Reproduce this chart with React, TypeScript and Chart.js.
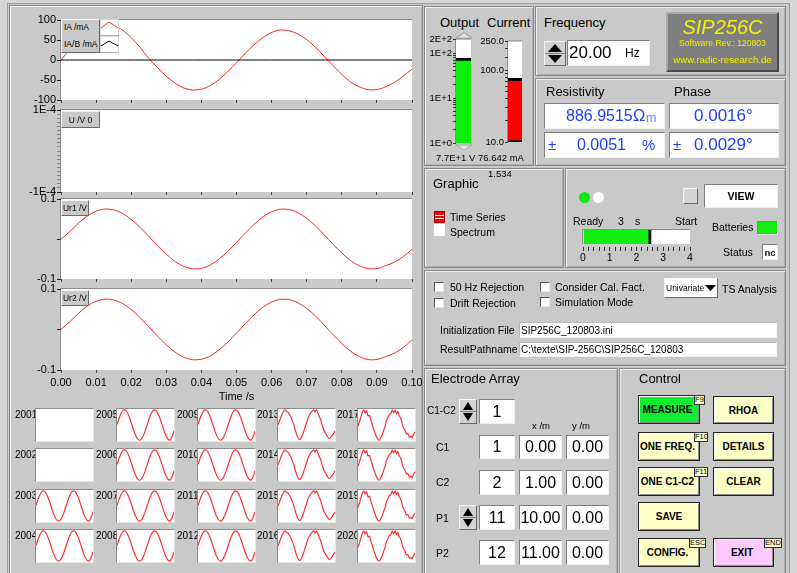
import React, { useEffect, useRef } from 'react';
import { Chart, registerables } from 'chart.js';
Chart.register(...registerables);

const SANS = "'Liberation Sans', Arial, Helvetica, sans-serif";
Chart.defaults.font.family = SANS;
Chart.defaults.color = '#000';

const PANEL = '#c9c9c9';
const BLUE = '#1f3dff';
const RED = '#ff2424';

// ---------------- data ----------------
const timeSec = [0, 0.0025, 0.005, 0.0075, 0.01, 0.0125, 0.015, 0.0175, 0.02, 0.0225, 0.025, 0.0275, 0.03, 0.0325, 0.035, 0.0375, 0.04, 0.0425, 0.045, 0.0475, 0.05, 0.0525, 0.055, 0.0575, 0.06, 0.0625, 0.065, 0.0675, 0.07, 0.0725, 0.075, 0.0775, 0.08, 0.0825, 0.085, 0.0875, 0.09, 0.0925, 0.095, 0.0975, 0.1];
const iaMilliAmp = [0, 27, 52, 72, 85, 90, 86, 75, 56, 32, 4, -19, -41, -58, -70, -75, -73, -64, -49, -29, -7, 17, 38, 56, 69, 75, 73, 65, 51, 32, 9, -14, -36, -55, -67, -74, -74, -67, -56, -40, -23];
const iabMilliAmp = [0, 0, 0, 0, 0, 0, 0, 0, 0, 0, 0, 0, 0, 0, 0, 0, 0, 0, 0, 0, 0, 0, 0, 0, 0, 0, 0, 0, 0, 0, 0, 0, 0, 0, 0, 0, 0, 0, 0, 0, 0];
const ur1Volt = [0, 0.0185, 0.0399, 0.0575, 0.0695, 0.0748, 0.0729, 0.064, 0.049, 0.0292, 0.0066, -0.0167, -0.038, -0.0561, -0.0687, -0.0746, -0.0734, -0.065, -0.0503, -0.031, -0.0084, 0.0149, 0.0366, 0.0552, 0.068, 0.0744, 0.0736, 0.0658, 0.0518, 0.0331, 0.0103, -0.013, -0.035, -0.0539, -0.0671, -0.0742, -0.074, -0.0665, -0.058, -0.044, -0.026];
const ur2Volt = [0.0005, 0.019, 0.0402, 0.0578, 0.0698, 0.075, 0.0731, 0.0642, 0.0493, 0.0295, 0.007, -0.0163, -0.0377, -0.0559, -0.0686, -0.0746, -0.0735, -0.0652, -0.0506, -0.0313, -0.0088, 0.0145, 0.0362, 0.0549, 0.0679, 0.0745, 0.0738, 0.066, 0.0521, 0.0335, 0.0107, -0.0126, -0.0347, -0.0537, -0.067, -0.0742, -0.0741, -0.0667, -0.0583, -0.0445, -0.0255];

const timeTicks = [0, 0.01, 0.02, 0.03, 0.04, 0.05, 0.06, 0.07, 0.08, 0.09, 0.1];
const iaTicks = [-100, -50, 0, 50, 100];
const iaTickLabels = ['-100', '-50', '0', '50', '100'];
const uTicks = [-1e-4, -9e-5, -8e-5, -7e-5, -6e-5, -5e-5, -4e-5, -3e-5, -2e-5, -1e-5, 0, 1e-5, 2e-5, 3e-5, 4e-5, 5e-5, 6e-5, 7e-5, 8e-5, 9e-5, 1e-4];
const uTickLabels = ['-1E-4', '', '', '', '', '', '', '', '', '', '', '', '', '', '', '', '', '', '', '', '1E-4'];
const urTicks = [-0.1, 0, 0.1];
const urTickLabels = ['-0.1', '', '0.1'];

const thumbIds = ['2001', '2002', '2003', '2004', '2005', '2006', '2007', '2008', '2009', '2010', '2011', '2012', '2013', '2014', '2015', '2016', '2017', '2018', '2019', '2020'];
const thumbPattern = ['none', 'none', 'clean', 'clean', 'clean', 'clean', 'clean', 'clean', 'clean', 'clean', 'clean', 'clean', 'noisyA', 'noisyA', 'noisyA', 'noisyA', 'noisyB', 'noisyB', 'noisyB', 'noisyB'];
const thumbClean = [0.03, 0.32, 0.58, 0.79, 0.94, 1.0, 0.97, 0.86, 0.67, 0.43, 0.15, -0.15, -0.43, -0.67, -0.86, -0.97, -1.0, -0.94, -0.79, -0.58, -0.32, -0.03, 0.26, 0.53, 0.76, 0.92, 0.99, 0.98, 0.89, 0.71, 0.48, 0.2, -0.09, -0.38, -0.63, -0.83, -0.96, -1.0, -0.9, -0.68, -0.38];
const thumbNoisyA = [0.0, 0.25, 0.5, 0.75, 0.92, 1.0, 0.9, 0.85, 0.7, 0.55, 0.3, 0.05, -0.3, -0.6, -0.85, -0.95, -0.9, -0.7, -0.45, -0.15, 0.15, 0.45, 0.65, 0.8, 0.92, 1.0, 0.85, 1.0, 0.8, 0.55, 0.35, 0.0, -0.3, -0.5, -0.65, -0.8, -0.9, -0.82, -0.7, -0.55, -0.4];
const thumbNoisyB = [-0.1, 0.2, 0.5, 0.85, 1.0, 0.8, 0.95, 0.6, 0.65, 0.35, 0.05, -0.3, -0.55, -0.8, -0.95, -1.0, -0.85, -0.65, -0.35, -0.1, 0.3, 0.5, 0.7, 0.75, 1.0, 0.8, 1.0, 0.75, 0.9, 0.6, 0.45, 0.1, -0.2, -0.35, -0.6, -0.55, -0.8, -0.75, -0.85, -0.6, -0.45];

const outputVolt = [77];
const outputTicks = [1, 2, 3, 4, 5, 6, 7, 8, 9, 10, 20, 30, 40, 50, 60, 70, 80, 90, 100, 200];
const outputTickLabels = ['1E+0', '', '', '', '', '', '', '', '', '1E+1', '', '', '', '', '', '', '', '', '1E+2', '2E+2'];
const currentMilliAmp = [76.642];
const currentTicks = [10, 20, 30, 40, 50, 60, 70, 80, 90, 100, 150, 200, 250];
const currentTickLabels = ['10.0', '', '', '', '', '', '', '', '', '100.0', '', '', '250.0'];
const progressSec = [2.55];
const progressTicks = [0, 0.2, 0.4, 0.6, 0.8, 1, 1.2, 1.4, 1.6, 1.8, 2, 2.2, 2.4, 2.6, 2.8, 3, 3.2, 3.4, 3.6, 3.8, 4];

// ---------------- helpers ----------------
const whitePlot = (border: boolean) => ({
  id: 'whitePlot',
  beforeDraw(chart: any) {
    const { ctx, chartArea: a } = chart;
    ctx.save();
    ctx.fillStyle = '#ffffff';
    ctx.fillRect(a.left, a.top, a.right - a.left, a.bottom - a.top);
    if (border) {
      ctx.strokeStyle = '#8c8c8c';
      ctx.lineWidth = 1;
      ctx.beginPath();
      ctx.moveTo(a.left - 0.5, a.bottom);
      ctx.lineTo(a.left - 0.5, a.top - 0.5);
      ctx.lineTo(a.right, a.top - 0.5);
      ctx.stroke();
    }
    ctx.restore();
  },
});

function ChartCanvas({ x, y, w, h, make }: { x: number; y: number; w: number; h: number; make: () => any }) {
  const ref = useRef<HTMLCanvasElement | null>(null);
  useEffect(() => {
    const c = new Chart(ref.current as HTMLCanvasElement, make());
    return () => c.destroy();
  }, []);
  return <canvas ref={ref} width={w} height={h} style={{ position: 'absolute', left: x, top: y, width: w, height: h }} />;
}

const pts = (xs: number[], ys: number[]) => ys.map((v, i) => ({ x: xs[i], y: v }));

function tsConfig(o: { datasets: any[]; min: number; max: number; ticks: number[]; labels: string[]; padTop: number; axisH: number; showX: boolean }) {
  return {
    type: 'line',
    data: { datasets: o.datasets },
    options: {
      responsive: false,
      animation: false,
      events: [],
      layout: { padding: { top: o.padTop, right: 10, left: 0, bottom: 0 } },
      plugins: { legend: { display: false }, tooltip: { enabled: false } },
      elements: { point: { radius: 0 }, line: { borderWidth: 1, tension: 0.3 } },
      scales: {
        x: {
          type: 'linear',
          min: 0,
          max: 0.1,
          afterBuildTicks: (s: any) => { s.ticks = timeTicks.map((v) => ({ value: v })); },
          ticks: { display: o.showX, callback: (v: any) => Number(v).toFixed(2), font: { size: 11 }, color: '#000', padding: 3, maxRotation: 0, autoSkip: false },
          grid: { drawOnChartArea: false, tickLength: 3, color: '#444' },
          border: { display: false },
          title: { display: o.showX, text: 'Time /s', font: { size: 11 }, color: '#000', padding: { top: 0, bottom: 0 } },
          afterFit: (s: any) => { s.height = o.axisH; s.paddingLeft = 0; s.paddingRight = 0; },
        },
        y: {
          min: o.min,
          max: o.max,
          afterBuildTicks: (s: any) => { s.ticks = o.ticks.map((v) => ({ value: v })); },
          ticks: { callback: (_v: any, i: number) => o.labels[i], font: { size: 11 }, color: '#000', padding: 1, autoSkip: false },
          grid: { drawOnChartArea: false, tickLength: 4, tickColor: (c: any) => (o.labels[c.index] !== '' || o.ticks.length < 6 ? '#222' : '#888'), color: '#222' },
          border: { display: false },
          afterFit: (s: any) => { s.width = 51; s.paddingTop = 0; s.paddingBottom = 0; },
        },
      },
    },
    plugins: [whitePlot(true)],
  };
}

function levelConfig(o: { value: number[]; color: string; min: number; max: number; ticks: number[]; labels: string[]; axisW: number; pad: any; bw: any }) {
  return {
    type: 'bar',
    data: { labels: ['v'], datasets: [{ data: o.value, backgroundColor: o.color, borderColor: '#000', borderWidth: o.bw, borderSkipped: false, barPercentage: 1, categoryPercentage: 1 }] },
    options: {
      responsive: false,
      animation: false,
      events: [],
      layout: { padding: o.pad },
      plugins: { legend: { display: false }, tooltip: { enabled: false } },
      scales: {
        x: { display: false },
        y: {
          type: 'logarithmic',
          min: o.min,
          max: o.max,
          afterBuildTicks: (s: any) => { s.ticks = o.ticks.map((v) => ({ value: v })); },
          ticks: { callback: (_v: any, i: number) => o.labels[i], font: { size: 9.5 }, color: '#000', padding: 1, autoSkip: false },
          grid: { drawOnChartArea: false, tickLength: 3, color: '#333' },
          border: { display: false },
          afterFit: (s: any) => { s.width = o.axisW; s.paddingTop = 0; s.paddingBottom = 0; },
        },
      },
    },
    plugins: [whitePlot(true)],
  };
}

function progressConfig() {
  return {
    type: 'bar',
    data: { labels: ['t'], datasets: [{ data: progressSec, backgroundColor: '#10ee10', borderColor: '#000', borderWidth: { right: 3 }, borderSkipped: false, barPercentage: 1, categoryPercentage: 1 }] },
    options: {
      indexAxis: 'y',
      responsive: false,
      animation: false,
      events: [],
      layout: { padding: { left: 13, right: 10, top: 8, bottom: 0 } },
      plugins: { legend: { display: false }, tooltip: { enabled: false } },
      scales: {
        y: { display: false },
        x: {
          min: 0,
          max: 4,
          afterBuildTicks: (s: any) => { s.ticks = progressTicks.map((v) => ({ value: v })); },
          ticks: { callback: (v: any) => (Number.isInteger(Number(v)) ? String(v) : ''), font: { size: 10.5 }, color: '#000', padding: 1, maxRotation: 0, autoSkip: false },
          grid: { drawOnChartArea: false, tickLength: 7, tickBorderDash: [0, 3, 4, 30], color: '#333' },
          border: { display: false },
          afterFit: (s: any) => { s.height = 25; s.paddingLeft = 0; s.paddingRight = 0; },
        },
      },
    },
    plugins: [whitePlot(true)],
  };
}

function thumbConfig(data: number[]) {
  const idx = data.map((_v, i) => i);
  return {
    type: 'line',
    data: { datasets: [{ data: pts(idx, data), borderColor: '#ff3030', borderWidth: 1.2, pointRadius: 0, tension: 0.2 }] },
    options: {
      responsive: false,
      animation: false,
      events: [],
      layout: { padding: 0 },
      plugins: { legend: { display: false }, tooltip: { enabled: false } },
      scales: { x: { type: 'linear', display: false, min: 0, max: data.length - 1 }, y: { display: false, min: -1.06, max: 1.06 } },
    },
  };
}

function T({ x, y, s, c = '#000', b = false, i = false, children, st = {} }: any) {
  return (
    <div style={{ position: 'absolute', left: x, top: y - s * 0.6, fontSize: s, lineHeight: `${s * 1.2}px`, fontFamily: SANS, color: c, fontWeight: b ? 700 : 400, fontStyle: i ? 'italic' : 'normal', whiteSpace: 'nowrap', ...st }}>
      {children}
    </div>
  );
}

const IN = '#7e7e7e #f2f2f2 #f2f2f2 #7e7e7e';
const OUT = '#f6f6f6 #6a6a6a #6a6a6a #f6f6f6';

function Box({ x, y, w, h, bg = '#fff', out = false, children, st = {} }: any) {
  return (
    <div style={{ position: 'absolute', left: x, top: y, width: w, height: h, boxSizing: 'border-box', background: bg, borderStyle: 'solid', borderWidth: 1, borderColor: out ? OUT : IN, display: 'flex', alignItems: 'center', justifyContent: 'center', fontFamily: SANS, overflow: 'hidden', whiteSpace: 'nowrap', ...st }}>
      {children}
    </div>
  );
}

function Panel({ x, y, w, h }: any) {
  return <div style={{ position: 'absolute', left: x, top: y, width: w, height: h, boxSizing: 'border-box', background: PANEL, border: '1px solid #8a8a8a', boxShadow: 'inset 1px 1px 0 #efefef, inset -1px -1px 0 #b0b0b0' }} />;
}

function Spinner({ x, y, w, h }: any) {
  const iw = w - 2;
  const ih = h - 2;
  const m = ih / 2;
  return (
    <div style={{ position: 'absolute', left: x, top: y, width: w, height: h, boxSizing: 'border-box', background: '#d2d2d2', borderStyle: 'solid', borderWidth: 1, borderColor: OUT }}>
      <svg width={iw} height={ih} style={{ display: 'block' }}>
        <polygon points={`${iw / 2},2 ${iw - 3},${m - 1.5} 3,${m - 1.5}`} fill="#000" />
        <line x1={0} y1={m} x2={iw} y2={m} stroke="#808080" />
        <polygon points={`3,${m + 1.5} ${iw - 3},${m + 1.5} ${iw / 2},${ih - 2}`} fill="#000" />
      </svg>
    </div>
  );
}

function Btn({ x, y, w, h, label, bg = '#ffffc8', tag, tx = 0, tw = 12 }: any) {
  return (
    <>
      <div style={{ position: 'absolute', left: x, top: y, width: w, height: h, boxSizing: 'border-box', background: bg, border: '1px solid #222', boxShadow: 'inset 1px 1px 0 #ffffff, inset -1px -1px 0 #8a8a8a', display: 'flex', alignItems: 'center', justifyContent: 'center', fontFamily: SANS, fontWeight: 700, fontSize: 10, color: '#000', whiteSpace: 'nowrap', paddingRight: tag ? 3 : 0 }}>
        {label}
      </div>
      {tag ? (
        <div style={{ position: 'absolute', left: tx, top: y, width: tw, height: 10, boxSizing: 'border-box', background: '#ffffc8', border: '1px solid #333', fontFamily: SANS, fontSize: 7.5, lineHeight: '8px', textAlign: 'center', color: '#000' }}>{tag}</div>
      ) : null}
    </>
  );
}

function CheckBox({ x, y }: any) {
  return <div style={{ position: 'absolute', left: x, top: y, width: 10, height: 10, boxSizing: 'border-box', background: '#fff', borderStyle: 'solid', borderWidth: 1, borderColor: '#555 #e8e8e8 #e8e8e8 #555' }} />;
}

const THUMB_X = [35, 116, 197, 277, 357];
const THUMB_Y = [408, 448, 489, 529];

export default function App() {
  useEffect(() => {
    document.body.style.margin = '0';
  }, []);

  const thumbs = thumbIds.map((id, k) => {
    const col = Math.floor(k / 4);
    const row = k % 4;
    const bx = THUMB_X[col];
    const by = THUMB_Y[row];
    const p = thumbPattern[k];
    const data = p === 'clean' ? thumbClean : p === 'noisyA' ? thumbNoisyA : p === 'noisyB' ? thumbNoisyB : null;
    return (
      <React.Fragment key={id}>
        <T x={bx - 20} y={by + 7} s={10}>{id}</T>
        <div style={{ position: 'absolute', left: bx, top: by, width: 59, height: 34, boxSizing: 'border-box', background: '#fff', borderStyle: 'solid', borderWidth: 1, borderColor: '#8c8c8c #e6e6e6 #e6e6e6 #8c8c8c' }}>
          {data ? <ChartCanvas x={0} y={0} w={57} h={32} make={() => thumbConfig(data)} /> : null}
        </div>
      </React.Fragment>
    );
  });

  return (
    <div style={{ position: 'absolute', left: 0, top: 0, width: 797, height: 573, overflow: 'hidden', background: '#d6d6d6', fontFamily: SANS }}>
      {/* outer frame */}
      <div style={{ position: 'absolute', left: 7, top: 3, width: 783, height: 580, boxSizing: 'border-box', border: '1px solid #9c9c9c', background: PANEL }} />

      {/* left graph panel */}
      <Panel x={9} y={5} w={414} h={575} />

      {/* main time series */}
      <ChartCanvas x={10} y={8} w={412} h={98} make={() => tsConfig({ datasets: [
        { data: pts(timeSec, iabMilliAmp), borderColor: '#000' },
        { data: pts(timeSec, iaMilliAmp), borderColor: RED },
      ], min: -100, max: 100, ticks: iaTicks, labels: iaTickLabels, padTop: 12, axisH: 6, showX: false })} />
      <ChartCanvas x={10} y={100} w={412} h={98} make={() => tsConfig({ datasets: [], min: -1e-4, max: 1e-4, ticks: uTicks, labels: uTickLabels, padTop: 10, axisH: 6, showX: false })} />
      <ChartCanvas x={10} y={189} w={412} h={96} make={() => tsConfig({ datasets: [
        { data: pts(timeSec, ur1Volt), borderColor: RED },
      ], min: -0.1, max: 0.1, ticks: urTicks, labels: urTickLabels, padTop: 10, axisH: 6, showX: false })} />
      <ChartCanvas x={10} y={279} w={412} h={125} make={() => tsConfig({ datasets: [
        { data: pts(timeSec, ur2Volt), borderColor: RED },
      ], min: -0.1, max: 0.1, ticks: urTicks, labels: urTickLabels, padTop: 10, axisH: 34, showX: true })} />

      {/* legend of plot 1 */}
      <div style={{ position: 'absolute', left: 61, top: 19, width: 39, height: 34, boxSizing: 'border-box', background: PANEL, borderStyle: 'solid', borderWidth: 1, borderColor: OUT }} />
      <T x={64} y={27} s={8.5}>IA /mA</T>
      <T x={64} y={44} s={8.5}>IA/B /mA</T>
      <svg width={19} height={34} style={{ position: 'absolute', left: 100, top: 19 }}>
        <rect x={0} y={0} width={19} height={16.5} fill="#fff" stroke="#b0b0b0" />
        <rect x={0} y={17} width={19} height={16.5} fill="#fff" stroke="#b0b0b0" />
        <polyline points="1,9 9,3 18,9" fill="none" stroke={RED} strokeWidth={1} />
        <polyline points="1,27 9,22 18,27" fill="none" stroke="#000" strokeWidth={1} />
      </svg>
      <Box x={61} y={111} w={39} h={17} bg={PANEL} out><span style={{ fontSize: 8.5 }}>U /V 0</span></Box>
      <Box x={61} y={200} w={28} h={16} bg={PANEL} out><span style={{ fontSize: 8.5 }}>Ur1 /V</span></Box>
      <Box x={61} y={290} w={28} h={16} bg={PANEL} out><span style={{ fontSize: 8.5 }}>Ur2 /V</span></Box>

      {/* thumbnails */}
      {thumbs}

      {/* right panels */}
      <Panel x={424} y={6} w={110} h={160} />
      <Panel x={535} y={6} w={251} h={70} />
      <Panel x={535} y={78} w={251} h={88} />
      <Panel x={424} y={168} w={140} h={100} />
      <Panel x={565} y={168} w={221} h={100} />
      <Panel x={424} y={270} w={362} h={96} />
      <Panel x={424} y={368} w={194} h={212} />
      <Panel x={619} y={368} w={167} h={212} />

      {/* output / current */}
      <T x={440} y={23} s={13}>Output</T>
      <T x={487} y={23} s={13}>Current</T>
      <svg width={20} height={120} style={{ position: 'absolute', left: 454, top: 31 }}>
        <polygon points="2,7 18,7 10,2" fill="#e4e4e4" stroke="#a0a0a0" />
        <polygon points="2,114 18,114 10,119" fill="#e4e4e4" stroke="#a0a0a0" />
      </svg>
      <ChartCanvas x={424} y={30} w={52} h={120} make={() => levelConfig({ value: outputVolt, color: '#10ee10', min: 1, max: 200, ticks: outputTicks, labels: outputTickLabels, axisW: 32, pad: { top: 9.5, right: 5, bottom: 7, left: 0 }, bw: { top: 3, left: 0, right: 0, bottom: 0 } })} />
      <ChartCanvas x={474} y={30} w={52} h={120} make={() => levelConfig({ value: currentMilliAmp, color: '#ff0000', min: 10, max: 250, ticks: currentTicks, labels: currentTickLabels, axisW: 34, pad: { top: 11.4, right: 4, bottom: 8, left: 0 }, bw: { top: 3, left: 0, right: 0, bottom: 2 } })} />
      <T x={436} y={158} s={9.5}>7.7E+1 V 76.642 mA</T>

      {/* frequency */}
      <T x={544} y={23} s={13}>Frequency</T>
      <Spinner x={544} y={41} w={22} h={25} />
      <Box x={567} y={40} w={83} h={26} st={{ justifyContent: 'flex-start' }} />
      <T x={569} y={53} s={17}>20.00</T>
      <T x={625} y={53} s={12}>Hz</T>
      <div style={{ position: 'absolute', left: 666, top: 12, width: 113, height: 60, boxSizing: 'border-box', background: '#7f7f7f', borderStyle: 'solid', borderWidth: 2, borderColor: '#a8a8a8 #4a4a4a #4a4a4a #a8a8a8' }} />
      <div style={{ position: 'absolute', left: 666, top: 15, width: 113, textAlign: 'center', fontFamily: SANS, fontStyle: 'italic', fontSize: 20, lineHeight: '24px', color: '#f2f200' }}>SIP256C</div>
      <div style={{ position: 'absolute', left: 666, top: 38, width: 113, textAlign: 'center', fontFamily: SANS, fontSize: 8.6, lineHeight: '11px', color: '#f2f200' }}>Software Rev.: 120803</div>
      <div style={{ position: 'absolute', left: 666, top: 54, width: 113, textAlign: 'center', fontFamily: SANS, fontSize: 9.7, lineHeight: '12px', color: '#f2f200' }}>www.radic-research.de</div>

      {/* resistivity / phase */}
      <T x={546} y={92} s={13}>Resistivity</T>
      <T x={674} y={92} s={13}>Phase</T>
      <Box x={544} y={103} w={121} h={26} />
      <Box x={669} y={103} w={110} h={26} />
      <Box x={544} y={132} w={121} h={26} />
      <Box x={669} y={132} w={110} h={26} />
      <T x={566} y={116} s={16} c={BLUE}>886.9515</T>
      <T x={633} y={116} s={16.5} c={BLUE}>Ω</T>
      <T x={646} y={118} s={12.5} c="#6f86ff">m</T>
      <T x={694} y={116} s={17} c={BLUE}>0.0016°</T>
      <T x={548} y={145} s={15} c={BLUE}>±</T>
      <T x={577} y={145} s={16} c={BLUE}>0.0051</T>
      <T x={642} y={145} s={15} c={BLUE}>%</T>
      <T x={673} y={145} s={15} c={BLUE}>±</T>
      <T x={694} y={145} s={17} c={BLUE}>0.0029°</T>

      {/* graphic */}
      <T x={433} y={184} s={13}>Graphic</T>
      <T x={488} y={174} s={9.5}>1.534</T>
      <div style={{ position: 'absolute', left: 434, top: 211, width: 11, height: 12, background: '#ff0000', boxSizing: 'border-box', border: '1px solid #a00000' }}>
        <div style={{ position: 'absolute', left: 0, top: 3, width: 9, height: 1, background: '#fff' }} />
        <div style={{ position: 'absolute', left: 0, top: 6, width: 9, height: 1, background: '#fff' }} />
      </div>
      <div style={{ position: 'absolute', left: 434, top: 224, width: 11, height: 12, background: '#fff' }} />
      <T x={450} y={217} s={10.5}>Time Series</T>
      <T x={450} y={232} s={10.5}>Spectrum</T>

      {/* ready / start */}
      <div style={{ position: 'absolute', left: 579, top: 192, width: 11, height: 11, borderRadius: '50%', background: '#14e614' }} />
      <div style={{ position: 'absolute', left: 593, top: 192, width: 11, height: 11, borderRadius: '50%', background: '#ffffff' }} />
      <Box x={683} y={188} w={15} h={16} bg="#d4d4d4" out />
      <Box x={704} y={184} w={74} h={24} st={{ fontWeight: 700, fontSize: 10.5 }}>VIEW</Box>
      <T x={573} y={221} s={10.5}>Ready</T>
      <T x={618} y={221} s={10.5}>3</T>
      <T x={635} y={221} s={10.5}>s</T>
      <T x={675} y={221} s={10.5}>Start</T>
      <ChartCanvas x={570} y={222} w={130} h={47} make={progressConfig} />
      <T x={712} y={227} s={10.5}>Batteries</T>
      <Box x={757} y={221} w={21} h={14} bg="#10ee10" />
      <T x={723} y={252} s={10.5}>Status</T>
      <Box x={762} y={244} w={16} h={16} st={{ fontWeight: 700, fontSize: 9.5 }}>nc</Box>

      {/* options */}
      <CheckBox x={434} y={282} />
      <CheckBox x={434} y={298} />
      <CheckBox x={540} y={282} />
      <CheckBox x={540} y={297} />
      <T x={450} y={287} s={10.5}>50 Hz Rejection</T>
      <T x={450} y={303} s={10.5}>Drift Rejection</T>
      <T x={555} y={287} s={10.5}>Consider Cal. Fact.</T>
      <T x={555} y={302} s={10.5}>Simulation Mode</T>
      <Box x={664} y={278} w={54} h={20} st={{ justifyContent: 'flex-start', borderColor: OUT }}>
        <span style={{ fontSize: 8.5, marginLeft: 1 }}>Univariate</span>
        <svg width={12} height={8} style={{ marginLeft: 1 }}><polygon points="0,1 11,1 5.5,7" fill="#000" /></svg>
      </Box>
      <T x={722} y={289} s={10.5}>TS Analysis</T>
      <T x={440} y={330} s={10.5}>Initialization File</T>
      <T x={440} y={349} s={10.5}>ResultPathname</T>
      <Box x={519} y={322} w={258} h={16} st={{ justifyContent: 'flex-start', borderColor: '#b8b8b8 #f4f4f4 #f4f4f4 #b8b8b8' }}><span style={{ fontSize: 10, marginLeft: 1 }}>SIP256C_120803.ini</span></Box>
      <Box x={519} y={342} w={258} h={15} st={{ justifyContent: 'flex-start', borderColor: '#b8b8b8 #f4f4f4 #f4f4f4 #b8b8b8' }}><span style={{ fontSize: 10, marginLeft: 1 }}>C:\texte\SIP-256C\SIP256C_120803</span></Box>

      {/* electrode array */}
      <T x={431} y={379} s={13}>Electrode Array</T>
      <T x={427} y={411} s={10}>C1-C2</T>
      <Spinner x={459} y={399} w={18} h={25} />
      <Box x={479} y={399} w={36} h={25} st={{ fontSize: 16 }}>1</Box>
      <T x={532} y={426} s={9.5}>x /m</T>
      <T x={572} y={426} s={9.5}>y /m</T>
      <T x={436} y={447} s={10.5}>C1</T>
      <T x={436} y={482} s={10.5}>C2</T>
      <T x={436} y={518} s={10.5}>P1</T>
      <T x={436} y={553} s={10.5}>P2</T>
      <Spinner x={459} y={505} w={18} h={25} />
      <Box x={479} y={435} w={36} h={24} st={{ fontSize: 16 }}>1</Box>
      <Box x={519} y={435} w={43} h={24} st={{ fontSize: 16 }}>0.00</Box>
      <Box x={566} y={435} w={43} h={24} st={{ fontSize: 16 }}>0.00</Box>
      <Box x={479} y={470} w={36} h={25} st={{ fontSize: 16 }}>2</Box>
      <Box x={519} y={470} w={43} h={25} st={{ fontSize: 16 }}>1.00</Box>
      <Box x={566} y={470} w={43} h={25} st={{ fontSize: 16 }}>0.00</Box>
      <Box x={479} y={505} w={36} h={25} st={{ fontSize: 16 }}>11</Box>
      <Box x={519} y={505} w={43} h={25} st={{ fontSize: 16 }}>10.00</Box>
      <Box x={566} y={505} w={43} h={25} st={{ fontSize: 16 }}>0.00</Box>
      <Box x={479} y={540} w={36} h={25} st={{ fontSize: 16 }}>12</Box>
      <Box x={519} y={540} w={43} h={25} st={{ fontSize: 16 }}>11.00</Box>
      <Box x={566} y={540} w={43} h={25} st={{ fontSize: 16 }}>0.00</Box>

      {/* control */}
      <T x={639} y={379} s={13}>Control</T>
      <Btn x={638} y={395} w={62} h={29} label="MEASURE" bg="#10ee30" tag="F9" tx={694} tw={11} />
      <Btn x={713} y={396} w={61} h={28} label="RHOA" />
      <Btn x={638} y={432} w={62} h={29} label="ONE FREQ." tag="F10" tx={694} tw={14} />
      <Btn x={713} y={432} w={61} h={29} label="DETAILS" />
      <Btn x={638} y={467} w={62} h={29} label="ONE C1-C2" tag="F11" tx={694} tw={14} />
      <Btn x={713} y={467} w={61} h={29} label="CLEAR" />
      <Btn x={638} y={502} w={62} h={29} label="SAVE" />
      <Btn x={638} y={538} w={62} h={29} label="CONFIG." tag="ESC" tx={689} tw={17} />
      <Btn x={713} y={538} w={61} h={29} label="EXIT" bg="#ffc8ff" tag="END" tx={764} tw={18} />
    </div>
  );
}
